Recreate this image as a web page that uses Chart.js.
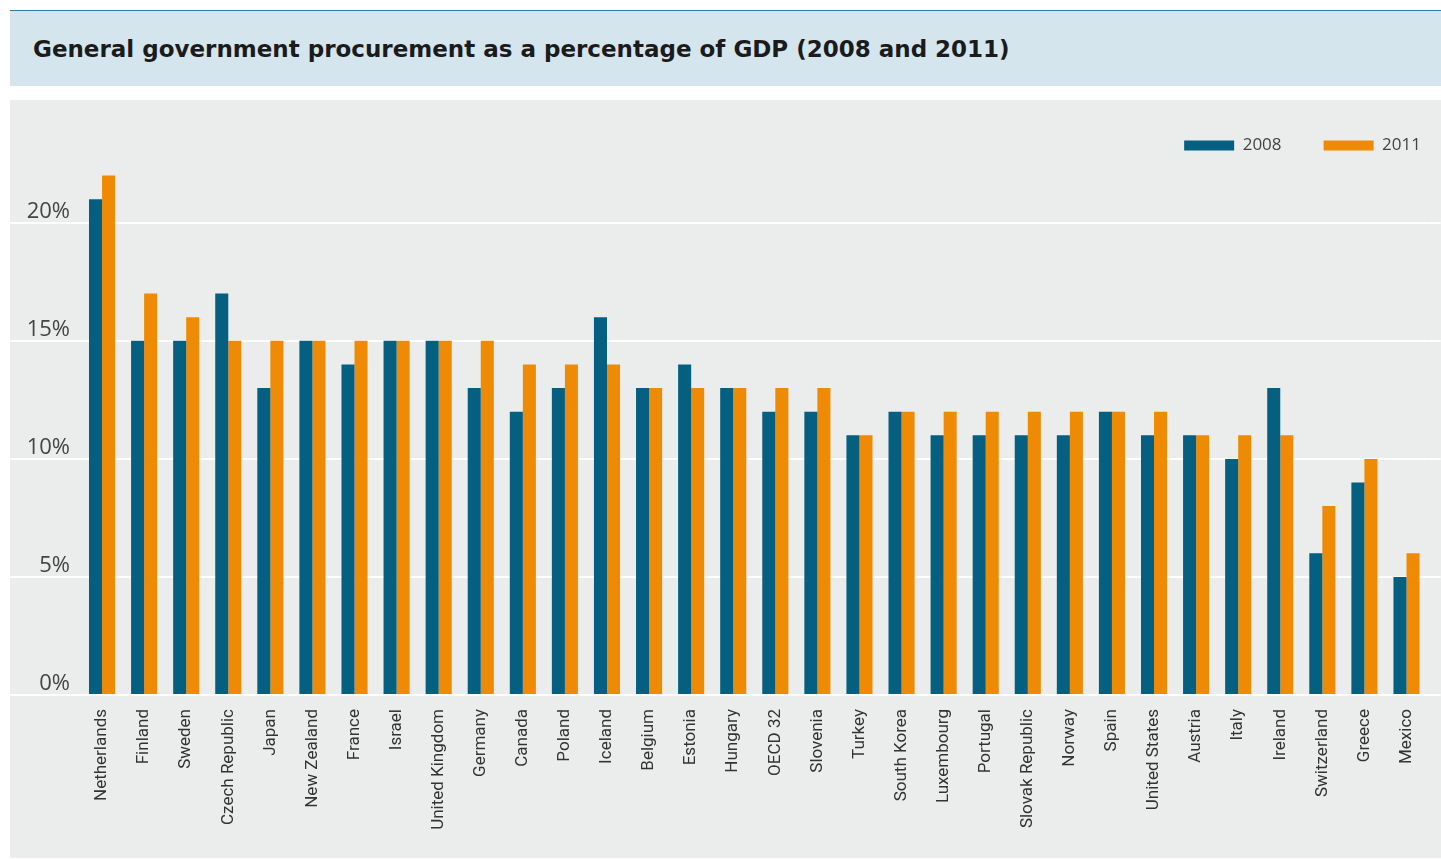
<!DOCTYPE html>
<html>
<head>
<meta charset="utf-8">
<script src="https://cdn.jsdelivr.net/npm/chart.js@4"></script>
<style>
  body { margin: 0; background: #fff; }
  #banner {
    position: absolute; left: 10px; top: 10px; width: 1431px; height: 76px;
    background: #d5e5ee; border-top: 1px solid #2f7ca0;
    font: bold 23px "DejaVu Sans", sans-serif; color: #1b1b1b;
    line-height: 76px; padding-left: 23px; box-sizing: border-box;
  }
  #wrap {
    position: absolute; left: 10px; top: 100px; width: 1431px; height: 758px;
    background: #ebeded;
  }
</style>
</head>
<body>
<div id="banner">General government procurement as a percentage of GDP (2008 and 2011)</div>
<div id="wrap"><canvas id="procChart"></canvas></div>
<script>
const countries = [
  "Netherlands", "Finland", "Sweden", "Czech Republic", "Japan", "New Zealand",
  "France", "Israel", "United Kingdom", "Germany", "Canada", "Poland", "Iceland",
  "Belgium", "Estonia", "Hungary", "OECD 32", "Slovenia", "Turkey", "South Korea",
  "Luxembourg", "Portugal", "Slovak Republic", "Norway", "Spain", "United States",
  "Austria", "Italy", "Ireland", "Switzerland", "Greece", "Mexico"
];
const values2008 = [21, 15, 15, 17, 13, 15, 14, 15, 15, 13, 12, 13, 16, 13, 14, 13,
  12, 12, 11, 12, 11, 11, 11, 11, 12, 11, 11, 10, 13, 6, 9, 5];
const values2011 = [22, 17, 16, 15, 15, 15, 15, 15, 15, 15, 14, 14, 14, 13, 13, 13,
  13, 13, 11, 12, 12, 12, 12, 12, 12, 12, 11, 11, 11, 8, 10, 6];
const seriesNames = ["2008", "2011"];

const yMax = 22.49;

// pick a narrow face for the country names, sized so "Netherlands" is ~93px long
function labelFont() {
  const c = document.createElement("canvas").getContext("2d");
  const w = (f) => { c.font = f; return c.measureText("Netherlands").width; };
  let family = "'Liberation Sans Narrow', sans-serif";
  if (w("100px 'Liberation Sans Narrow', monospace") === w("100px monospace")) {
    family = "Roboto, 'Open Sans', sans-serif";
  }
  const base = w("100px " + family);
  return { family: family, size: Math.round((100 * 93) / base) };
}

document.addEventListener("DOMContentLoaded", function () {
  const ctx = document.getElementById("procChart");

  new Chart(ctx, {
    type: "bar",
    data: {
      labels: countries,
      datasets: [
        { label: seriesNames[0], data: values2008, backgroundColor: "#055f80" },
        { label: seriesNames[1], data: values2011, backgroundColor: "#ee8a03" },
      ],
    },
    options: {
      responsive: true,
      maintainAspectRatio: false,
      animation: false,
      categoryPercentage: 0.62,
      barPercentage: 1.0,
      layout: { padding: { top: 17, left: 0, right: 0, bottom: 0 } },
      plugins: {
        tooltip: { enabled: false },
        legend: {
          position: "top",
          align: "end",
          labels: {
            boxWidth: 50,
            boxHeight: 10,
            padding: 20,
            color: "#444",
            font: { family: "'Open Sans', sans-serif", size: 17 },
            generateLabels: function (chart) {
              const items = Chart.defaults.plugins.legend.labels.generateLabels(chart);
              // extra room after the first entry, as in the original
              items[0].text = items[0].text + "     ";
              return items;
            },
          },
        },
      },
      scales: {
        x: {
          grid: { display: false, drawTicks: false },
          border: { display: false },
          ticks: {
            autoSkip: false,
            minRotation: 90,
            maxRotation: 90,
            padding: 14,
            color: "#333",
            font: labelFont(),
          },
          afterFit: function (scale) { scale.height = 163; },
        },
        y: {
          min: 0,
          max: yMax,
          border: { display: false },
          grid: { color: "#ffffff", lineWidth: 2, tickLength: 71, tickColor: "#ffffff" },
          ticks: {
            stepSize: 5,
            includeBounds: false,
            padding: -60,
            labelOffset: -11,
            color: "#444",
            font: { family: "'Open Sans', sans-serif", size: 22 },
            callback: (v) => v + "%",
          },
          afterFit: function (scale) { scale.width = 71; },
        },
        yRight: {
          position: "right",
          min: 0,
          max: yMax,
          border: { display: false },
          grid: { drawOnChartArea: false, tickLength: 13, tickColor: "#ffffff", lineWidth: 2 },
          ticks: { display: false, stepSize: 5, includeBounds: false },
          afterFit: function (scale) { scale.width = 6; },
        },
      },
    },
  });
});
</script>
</body>
</html>
